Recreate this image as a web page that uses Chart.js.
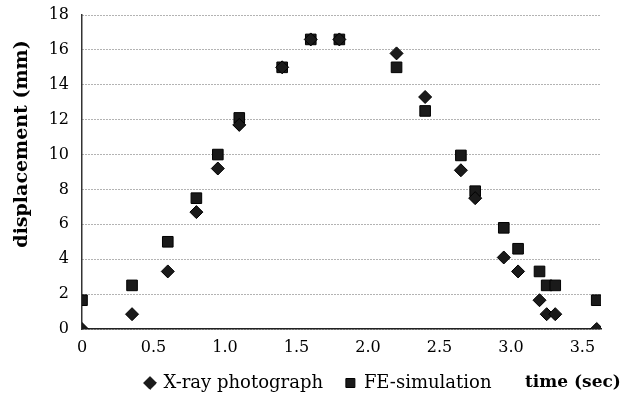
<!DOCTYPE html>
<html>
<head>
<meta charset="utf-8">
<script src="https://cdn.jsdelivr.net/npm/chart.js@4/dist/chart.umd.min.js"></script>
<style>
html,body{margin:0;padding:0;background:#fff;}
#wrap{width:637px;height:397px;position:relative;}
</style>
</head>
<body>
<div id="wrap"><canvas id="c"></canvas></div>
<script>
// time (sec)
const xrayTime = [0, 0.35, 0.6, 0.8, 0.95, 1.1, 1.4, 1.6, 1.8, 2.2, 2.4, 2.65, 2.75, 2.95, 3.05, 3.2, 3.25, 3.31, 3.6];
const xrayDisp = [0, 0.85, 3.3, 6.7, 9.2, 11.7, 15, 16.6, 16.6, 15.8, 13.3, 9.1, 7.5, 4.1, 3.3, 1.65, 0.85, 0.85, 0];
const feTime   = [0, 0.35, 0.6, 0.8, 0.95, 1.1, 1.4, 1.6, 1.8, 2.2, 2.4, 2.65, 2.75, 2.95, 3.05, 3.2, 3.25, 3.31, 3.6];
const feDisp   = [1.65, 2.5, 5, 7.5, 10, 12.1, 15, 16.6, 16.6, 15, 12.5, 9.95, 7.9, 5.8, 4.6, 3.3, 2.5, 2.5, 1.65];
const seriesNames = ['X-ray photograph', 'FE-simulation'];
const xTitle = 'time (sec)';
const yTitle = 'displacement (mm)';

const FONT = "'DejaVu Serif', 'Liberation Serif', serif";

const toPts = (xs, ys) => xs.map((x, i) => ({x: x, y: ys[i]}));

const axisTitles = {
  id: 'axisTitles',
  afterDraw(chart) {
    const ctx = chart.ctx;
    const lg = chart.legend;
    ctx.save();
    ctx.fillStyle = '#000';
    ctx.textBaseline = 'middle';
    // x title, on the legend row
    ctx.font = "bold 17px " + FONT;
    ctx.textAlign = 'left';
    let y = chart.height - 14;
    if (lg && lg.legendHitBoxes && lg.legendHitBoxes.length) {
      y = lg.legendHitBoxes[0].top + lg.legendHitBoxes[0].height / 2;
    }
    ctx.fillText(xTitle, 525, y);
    // y title, rotated
    ctx.font = "bold 19px " + FONT;
    ctx.textAlign = 'center';
    ctx.translate(22, 144);
    ctx.rotate(-Math.PI / 2);
    ctx.fillText(yTitle, 0, 0);
    ctx.restore();
  }
};

new Chart(document.getElementById('c'), {
  type: 'scatter',
  data: {
    datasets: [
      {
        label: seriesNames[0] + '    ',
        data: toPts(xrayTime, xrayDisp),
        pointStyle: 'rectRot',
        pointRadius: 6.5,
        pointBackgroundColor: '#1a1a1a',
        pointBorderColor: '#000',
        pointBorderWidth: 1,
        backgroundColor: '#1a1a1a',
        borderColor: '#000',
        order: 1
      },
      {
        label: seriesNames[1],
        data: toPts(feTime, feDisp),
        pointStyle: 'rect',
        pointRadius: 7.5,
        pointBackgroundColor: '#1a1a1a',
        pointBorderColor: '#000',
        pointBorderWidth: 1,
        backgroundColor: '#1a1a1a',
        borderColor: '#000',
        order: 2
      }
    ]
  },
  options: {
    responsive: true,
    maintainAspectRatio: false,
    animation: false,
    layout: { padding: { left: 0, right: 0, top: 15, bottom: -5 } },
    plugins: {
      tooltip: { enabled: false },
      legend: {
        position: 'bottom',
        align: 'center',
        labels: {
          usePointStyle: true,
          boxWidth: 9,
          boxHeight: 9,
          padding: 0,
          color: '#000',
          font: { family: FONT, size: 18 }
        }
      }
    },
    scales: {
      x: {
        type: 'linear',
        min: 0,
        max: 3.63,
        ticks: {
          stepSize: 0.5,
          includeBounds: false,
          color: '#000',
          padding: 9,
          font: { family: FONT, size: 16 }
        },
        grid: { display: false, drawTicks: false },
        border: { display: true, color: '#222', width: 1.5 },
        afterFit(scale) {
          scale.height = 45;
          scale.paddingRight = 36;
          scale.paddingLeft = 0;
        }
      },
      y: {
        type: 'linear',
        min: 0,
        max: 18,
        ticks: {
          stepSize: 2,
          color: '#000',
          padding: 13,
          font: { family: FONT, size: 16 }
        },
        grid: { color: '#666', lineWidth: 1, drawTicks: false },
        border: { display: true, color: '#333', width: 1.5, dash: [1, 2] },
        title: { display: false },
        afterFit(scale) {
          scale.width = 82;
          scale.paddingTop = 0;
          scale.paddingBottom = 0;
        }
      }
    }
  },
  plugins: [axisTitles]
});
</script>
</body>
</html>
